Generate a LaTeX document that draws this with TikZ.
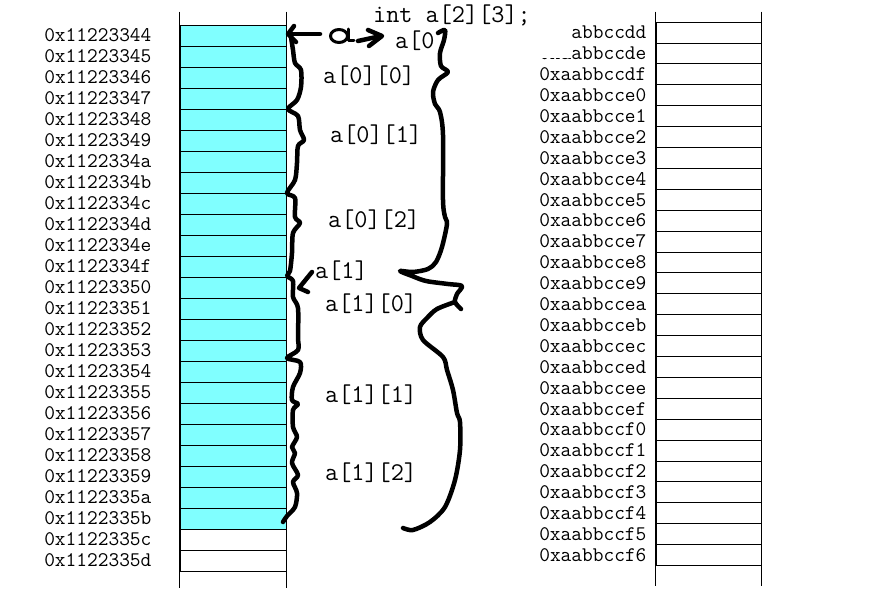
\documentclass[tikz,border=0pt]{standalone}
\definecolor{memcyan}{RGB}{128,255,255}

\begin{document}
\begin{tikzpicture}[x=1pt, y=-1pt,
    cell/.style = {draw, line width=0.8pt, minimum width=106pt, minimum height=21pt, inner sep=0pt},
    addr/.style = {font=\fontsize{20.8}{22}\selectfont\ttfamily, inner sep=0pt, anchor=east},
    elem/.style = {font=\fontsize{25.5}{27}\selectfont\ttfamily, inner sep=0pt, anchor=base west},
    hand/.style = {line width=4.5pt, line cap=round, line join=round}]
        \useasboundingbox (0,0) rectangle (876,597);

        % Drawing the cells of a (left column)
        \foreach \i in {1,...,26}{
            \pgfmathsetmacro{\yPos}{14.5+21*\i}
            \ifnum\i<25 \def\cellFill{memcyan}\else\def\cellFill{white}\fi
            \node[cell, fill=\cellFill] (left-\i) at (233, \yPos) {};
            \pgfmathtruncatemacro{\n}{67+\i}
            \pgfmathsetmacro{\hx}{hex(\n)}
            \node[addr] (laddr-\i) at ([xshift=-28pt]left-\i.west) {0x112233\hx};
          }
        \draw[line width=0.8pt] ([yshift=13pt]left-1.north west) -- ([yshift=-17pt]left-26.south west);
        \draw[line width=0.8pt] ([yshift=13pt]left-1.north east) -- ([yshift=-17pt]left-26.south east);

        % Drawing the second block of memory (right column)
        \foreach \i in {1,...,26}{
            \pgfmathsetmacro{\yPos}{11.55+20.9*\i}
            \node[cell, minimum width=105pt, minimum height=20.9pt] (right-\i) at (708.5, \yPos) {};
            \pgfmathtruncatemacro{\n}{220+\i}
            \pgfmathsetmacro{\hx}{hex(\n)}
            \node[addr] (raddr-\i) at ([xshift=-9pt]right-\i.west) {0xaabbcc\hx};
          }
        \draw[line width=0.8pt] ([yshift=10pt]right-1.north west) -- ([yshift=-20pt]right-26.south west);
        \draw[line width=0.8pt] ([yshift=10pt]right-1.north east) -- ([yshift=-20pt]right-26.south east);

        % the declaration hides the start of the first addresses
        \fill[white] (528,14) rectangle (572,57.5);
        \node[elem] (decl) at (373,23) {int a[2][3];};

        % Element names
        \foreach \x/\y/\txt/\nm in {395/48/{a[0}/a0, 323/83/{a[0][0]}/a00, 330/142/{a[0][1]}/a01,
            328/227/{a[0][2]}/a02, 315/278/{a[1]}/a1, 325/311/{a[1][0]}/a10,
            325/402/{a[1][1]}/a11, 325/480/{a[1][2]}/a12}{
            \node[elem] (\nm) at (\x,\y) {\txt};
          }

        % Hand drawn marks
        % a <- ... the arrow to the first cell
        \draw[hand] (320,34) -- (288,34);
        \draw[hand] (294,26) -- (288,34) -- (296,42);
        % the letter a and the arrow to a[0
        \draw[hand, line width=3pt] (339,36) ellipse [x radius=8.5, y radius=6.5];
        \draw[hand, line width=3pt] (348,29) -- (348,40) -- (354,40);
        \draw[hand] (358,41) -- (381,36);
        \draw[hand] (368,30) -- (382,36) -- (369,46);
        % small arrow from a[1]
        \draw[hand] (312,272) -- (299,288) -- (308,292);

        % braces of the six elements
        \draw[hand] plot[smooth, tension=0.5] coordinates {
            (291,37) (293,50) (295,63) (301,70) (301,87) (297,100) (288,109)
            (298,116) (300,130) (304,140) (298,146) (297,163) (295,180) (287,193)
            (295,198) (295,217) (300,223) (293,233) (292,253) (290,271) (287,276)
            (293,281) (293,297) (298,308) (298,337) (298,350) (287,358)
            (300,362) (300,373) (293,387) (292,400) (298,404) (293,410) (293,427)
            (297,437) (292,447) (295,453) (292,463) (298,475) (293,482) (297,493)
            (295,507) (287,516) (283,522)};

        % brace of a[0] and a[1]
        \draw[hand] plot[smooth, tension=0.5] coordinates {
            (438,33) (445,30) (444,40) (440,53) (441,66) (448,72) (438,80)
            (433,92) (435,104) (440,112) (443,135) (443,200) (445,217) (447,224)
            (442,247) (436,262) (428,269) (413,272) (400,271) (412,276) (426,281)
            (448,284) (462,286) (457,294) (455,302) (461,309)};
        \draw[hand] plot[smooth, tension=0.5] coordinates {
            (455,302) (437,309) (427,318) (420,327) (423,340) (443,357) (447,370)
            (453,390) (457,413) (460,422) (460,450) (455,480) (445,507) (430,522)
            (413,530) (403,528)};
      \end{tikzpicture}
\end{document}
